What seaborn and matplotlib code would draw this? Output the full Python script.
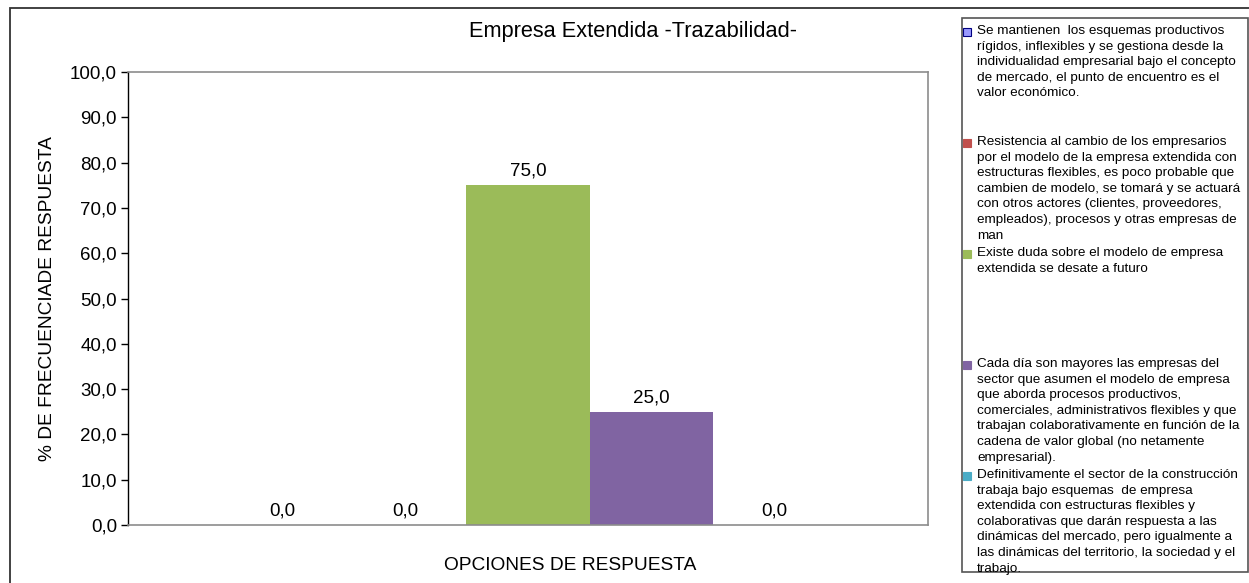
import pandas as pd
import matplotlib
matplotlib.use('Agg')
import matplotlib.pyplot as plt
import seaborn as sns
from matplotlib.patches import Rectangle
from matplotlib.ticker import FuncFormatter, MultipleLocator

# Data
opciones = [
    "Se mantienen  los esquemas productivos\nrígidos, inflexibles y se gestiona desde la\nindividualidad empresarial bajo el concepto\nde mercado, el punto de encuentro es el\nvalor económico.",
    "Resistencia al cambio de los empresarios\npor el modelo de la empresa extendida con\nestructuras flexibles, es poco probable que\ncambien de modelo, se tomará y se actuará\ncon otros actores (clientes, proveedores,\nempleados), procesos y otras empresas de\nman",
    "Existe duda sobre el modelo de empresa\nextendida se desate a futuro",
    "Cada día son mayores las empresas del\nsector que asumen el modelo de empresa\nque aborda procesos productivos,\ncomerciales, administrativos flexibles y que\ntrabajan colaborativamente en función de la\ncadena de valor global (no netamente\nempresarial).",
    "Definitivamente el sector de la construcción\ntrabaja bajo esquemas  de empresa\nextendida con estructuras flexibles y\ncolaborativas que darán respuesta a las\ndinámicas del mercado, pero igualmente a\nlas dinámicas del territorio, la sociedad y el\ntrabajo.",
]
porcentajes = [0.0, 0.0, 75.0, 25.0, 0.0]
colores = ["#9999FF", "#C0504D", "#9BBB59", "#8064A2", "#4BACC6"]
bordes = ["#000080", "#C0504D", "#9BBB59", "#8064A2", "#4BACC6"]

W, H = 1249, 583

sns.set_theme(style="white")
plt.rcParams['font.family'] = ['Liberation Sans', 'DejaVu Sans']
plt.rcParams['text.color'] = 'black'
plt.rcParams['axes.labelcolor'] = 'black'
plt.rcParams['ytick.color'] = 'black'

df = pd.DataFrame({"grupo": [""] * len(opciones), "opcion": opciones, "valor": porcentajes})

fig = plt.figure(figsize=(W / 100, H / 100), dpi=100)
ax = fig.add_axes([128 / W, 1 - 525 / H, 800 / W, 453 / H])

sns.barplot(data=df, x="grupo", y="valor", hue="opcion", hue_order=opciones,
            palette=colores, width=0.769, saturation=1, linewidth=0,
            legend=False, ax=ax)

coma = lambda v: f"{v:.1f}".replace('.', ',')
for cont, v in zip(ax.containers, porcentajes):
    ax.bar_label(cont, labels=[coma(v)], padding=4, fontsize=13.5, color='black')

ax.set_ylim(0, 100)
ax.set_xlim(-0.5, 0.5)
ax.yaxis.set_major_locator(MultipleLocator(10))
ax.yaxis.set_major_formatter(FuncFormatter(lambda v, p: coma(v)))
ax.tick_params(axis='y', labelsize=13.5, length=5, width=1, color='black', direction='out', pad=3, left=True)
ax.tick_params(axis='x', length=0, labelbottom=False)
ax.set_xlabel("")
ax.set_ylabel("% DE FRECUENCIADE RESPUESTA", fontsize=13.8, labelpad=10)

for s in ['top', 'right', 'bottom']:
    ax.spines[s].set_color('#8c8c8c')
    ax.spines[s].set_linewidth(1.2)
ax.spines['left'].set_color('black')
ax.spines['left'].set_linewidth(1)

def fx(x):
    return x / W

def fy(y):
    return 1 - y / H

fig.text(fx(633), fy(32), "Empresa Extendida -Trazabilidad-", fontsize=15.7,
         ha='center', va='center')
fig.text(fx(570), fy(565), "OPCIONES DE RESPUESTA", fontsize=13.8,
         ha='center', va='center')

# outer chart frame
fig.add_artist(Rectangle((fx(10), fy(600)), fx(1300), (600 - 8) / H,
                         transform=fig.transFigure, fill=False, edgecolor='#333333', lw=1.3))

# legend box
fig.add_artist(Rectangle((fx(962), fy(572)), fx(1248 - 962), (572 - 18) / H,
                         transform=fig.transFigure, fill=False, edgecolor='#555555', lw=1.2))
for i, (lab, c, b) in enumerate(zip(opciones, colores, bordes)):
    yc = 32 + i * 111
    fig.add_artist(Rectangle((fx(963), fy(yc + 4)), fx(8), 8 / H,
                             transform=fig.transFigure, facecolor=c, edgecolor=b, lw=0.8))
    fig.text(fx(977), fy(yc - 7), lab, fontsize=9.7, ha='left', va='top', linespacing=1.4)

fig.savefig('out.png', dpi=100)
